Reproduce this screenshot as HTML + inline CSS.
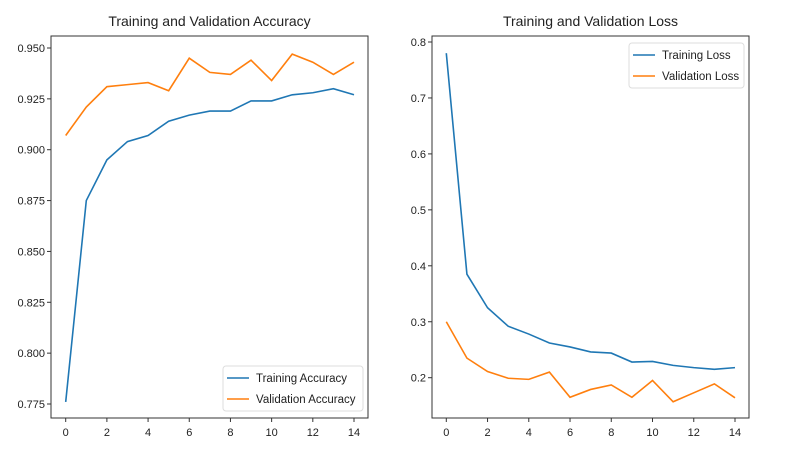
<!DOCTYPE html>
<html><head><meta charset="utf-8"><style>
body{margin:0;background:#fff;}
svg text{font-family:"Liberation Sans","DejaVu Sans",sans-serif;fill:#222;}
</style></head><body>
<svg id="chart" width="800" height="460" xmlns="http://www.w3.org/2000/svg"></svg>
<script>
const epochs=[0,1,2,3,4,5,6,7,8,9,10,11,12,13,14];
const trainAcc=[0.776,0.875,0.895,0.904,0.907,0.914,0.917,0.919,0.919,0.924,0.924,0.927,0.928,0.930,0.927];
const valAcc=[0.907,0.921,0.931,0.932,0.933,0.929,0.945,0.938,0.937,0.944,0.934,0.947,0.943,0.937,0.943];
const trainLoss=[0.78,0.385,0.325,0.292,0.278,0.262,0.255,0.246,0.244,0.228,0.229,0.222,0.218,0.215,0.218];
const valLoss=[0.30,0.235,0.211,0.199,0.197,0.210,0.165,0.179,0.187,0.165,0.195,0.157,0.173,0.189,0.164];
const xTicks=[0,2,4,6,8,10,12,14];
const accTicks=[0.775,0.800,0.825,0.850,0.875,0.900,0.925,0.950];
const lossTicks=[0.2,0.3,0.4,0.5,0.6,0.7,0.8];
const NS="http://www.w3.org/2000/svg";
const svg=document.getElementById('chart');
function mk(tag,attrs,parent){const e=document.createElementNS(NS,tag);for(const k in attrs)e.setAttribute(k,attrs[k]);(parent||svg).appendChild(e);return e;}
function panel(cfg){
  const g=mk('g',{});
  
  
  const sx=v=>cfg.x0px+(v-0)*(cfg.x14px-cfg.x0px)/14;
  const sy=v=>cfg.yAp+(v-cfg.yA)*(cfg.yBp-cfg.yAp)/(cfg.yB-cfg.yA);
  const t=mk('text',{x:(cfg.L+cfg.R)/2,y:26,'text-anchor':'middle','font-size':14},g);t.textContent=cfg.title;
  
  const series=[[cfg.s1,'#1f77b4',cfg.l1],[cfg.s2,'#ff7f0e',cfg.l2]];
  series.forEach(([d,c,l])=>{
    const p=mk('polyline',{points:d.map((v,i)=>sx(epochs[i])+','+sy(v)).join(' '),fill:'none',stroke:c,'stroke-width':1.6},g);
    
    
  });
  const fr=mk('rect',{x:cfg.L,y:36,width:cfg.R-cfg.L,height:382,fill:'none',stroke:'#333','stroke-width':1},g);
  
  xTicks.forEach(v=>{mk('line',{x1:sx(v),x2:sx(v),y1:418,y2:422,stroke:'#333'},g);
    const tx=mk('text',{x:sx(v),y:436,'text-anchor':'middle','font-size':11},g);tx.textContent=v;
    });
  cfg.ticks.forEach(v=>{mk('line',{x1:cfg.L-4,x2:cfg.L,y1:sy(v),y2:sy(v),stroke:'#333'},g);
    const ty=mk('text',{x:cfg.L-6,y:sy(v)+4,'text-anchor':'end','font-size':11},g);ty.textContent=v.toFixed(cfg.dec);
    });
  const lg=mk('g',{},g);
  mk('rect',{x:cfg.lx,y:cfg.ly,width:cfg.lw,height:45,rx:3,fill:'#fff','fill-opacity':0.8,stroke:'#ddd'},lg);
  series.forEach(([d,c,l],i)=>{const yy=cfg.ly+12+i*21;
    mk('line',{x1:cfg.lx+4,x2:cfg.lx+26,y1:yy,y2:yy,stroke:c,'stroke-width':1.6},lg);
    const lt=mk('text',{x:cfg.lx+33,y:yy+4,'font-size':11.5},lg);lt.textContent=l;
    });
}
panel({name:'accuracy-chart',title:'Training and Validation Accuracy',L:51,R:368,x0px:65.7,x14px:354,yA:0.950,yAp:48,yB:0.775,yBp:404,ticks:accTicks,dec:3,s1:trainAcc,s2:valAcc,l1:'Training Accuracy',l2:'Validation Accuracy',lx:223,ly:366,lw:140});
panel({name:'loss-chart',title:'Training and Validation Loss',L:432,R:749,x0px:446.3,x14px:735,yA:0.8,yAp:42,yB:0.2,yBp:377.7,ticks:lossTicks,dec:1,s1:trainLoss,s2:valLoss,l1:'Training Loss',l2:'Validation Loss',lx:629,ly:43,lw:115});
</script>
</body></html>
